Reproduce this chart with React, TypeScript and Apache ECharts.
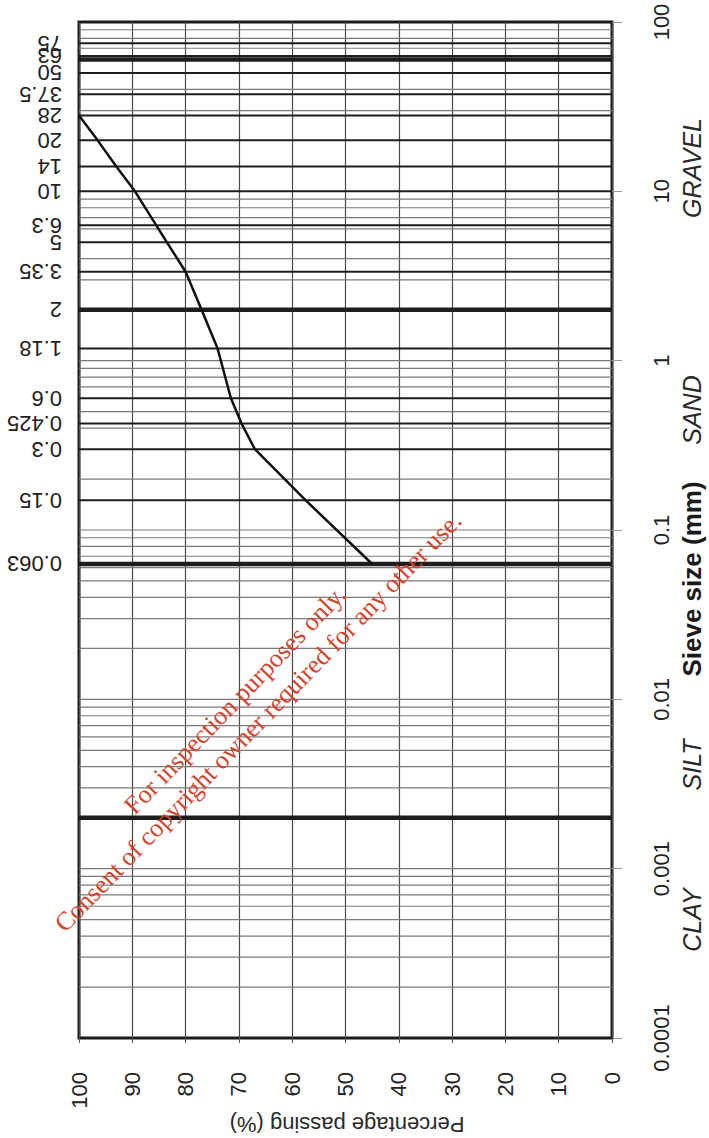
import React, { useEffect, useRef } from "react";
import * as echarts from "echarts";

// ---- data ----
const sieveSizes = [75, 63, 50, 37.5, 28, 20, 14, 10, 6.3, 5, 3.35, 2, 1.18, 0.6, 0.425, 0.3, 0.15, 0.063];
const sieveLabels = ["75", "63", "50", "37.5", "28", "20", "14", "10", "6.3", "5", "3.35", "2", "1.18", "0.6", "0.425", "0.3", "0.15", "0.063"];
const boundarySizes = [60, 2, 0.063, 0.002];
const decades = [0.0001, 0.001, 0.01, 0.1, 1, 10];
const mantissas = [1, 2, 3, 4, 5, 6, 7, 8, 9];
const sizeTicks = [0.0001, 0.001, 0.01, 0.1, 1, 10, 100];
const sizeTickLabels = ["0.0001", "0.001", "0.01", "0.1", "1", "10", "100"];
const curveSizes = [28, 20, 14, 10, 6.3, 5, 3.35, 2, 1.18, 0.6, 0.425, 0.3, 0.15, 0.063];
const curvePassing = [100, 96.5, 93, 89.5, 85.5, 83.5, 80, 77, 74, 71.5, 69.5, 67, 57.5, 45];
const soilClasses = ["GRAVEL", "SAND", "SILT", "CLAY"];
const watermarkLines = ["For inspection purposes only.", "Consent of copyright owner required for any other use."];

const SANS = '"Liberation Sans", Arial, sans-serif';
const SERIF = '"Liberation Serif", "Times New Roman", serif';

export default function App() {
  const ref = useRef<HTMLDivElement>(null);
  useEffect(() => {
    if (!ref.current) return;
    const chart = echarts.init(ref.current, undefined, { renderer: "svg" });

    const near = (a: number, b: number) => Math.abs(Math.log10(a) - Math.log10(b)) < 1e-6;
    const minorValues: number[] = [];
    decades.forEach((d) => mantissas.forEach((m) => {
      const v = +(d * m).toPrecision(6);
      if (near(v, 0.0001)) return;
      if (sieveSizes.some((s) => near(s, v)) || boundarySizes.some((s) => near(s, v))) return;
      minorValues.push(v);
    }));

    const hLines: any[] = [];
    minorValues.forEach((v) => hLines.push([0, v, 0]));
    sieveSizes.forEach((v) => hLines.push([0, v, 1]));
    boundarySizes.forEach((v) => hLines.push([0, v, 2]));

    const lineStyles = [
      { stroke: "#7a7a7a", lineWidth: 1.2 },
      { stroke: "#1e1e1e", lineWidth: 2 },
      { stroke: "#1e1e1e", lineWidth: 4.5 },
    ];

    const classPos = [
      [692, 168],
      [692, 410],
      [692, 765],
      [692, 920],
    ];

    const graphics: any[] = [];
    soilClasses.forEach((c, i) => {
      graphics.push({
        type: "text",
        x: classPos[i][0],
        y: classPos[i][1],
        rotation: Math.PI / 2,
        style: { text: c, fill: "#2a2a2a", font: `italic 25px ${SANS}`, align: "center", verticalAlign: "middle" },
      });
    });
    graphics.push({
      type: "text",
      x: 692,
      y: 579,
      rotation: Math.PI / 2,
      style: { text: "Sieve size (mm)", fill: "#1a1a1a", font: `bold 26px ${SANS}`, align: "center", verticalAlign: "middle" },
    });
    graphics.push({
      type: "text",
      x: 347,
      y: 1124,
      rotation: Math.PI,
      style: { text: "Percentage passing (%)", fill: "#2a2a2a", font: `22px ${SANS}`, align: "center", verticalAlign: "middle" },
    });
    const wmPos = [
      [235, 700],
      [258, 722],
    ];
    watermarkLines.forEach((t, i) => {
      graphics.push({
        type: "text",
        x: wmPos[i][0],
        y: wmPos[i][1],
        rotation: (46 * Math.PI) / 180,
        z: 100,
        style: { text: t, fill: "#d4432c", font: `26px ${SERIF}`, align: "center", verticalAlign: "middle" },
      });
    });

    chart.setOption({
      animation: false,
      backgroundColor: "#ffffff",
      grid: {
        left: 79,
        right: 97,
        top: 22,
        bottom: 100,
        show: true,
        borderColor: "#1a1a1a",
        borderWidth: 3,
        backgroundColor: "transparent",
        outerBoundsMode: "none",
      },
      xAxis: {
        type: "value",
        min: 0,
        max: 100,
        interval: 10,
        inverse: true,
        position: "bottom",
        axisLine: { show: false },
        axisTick: { show: true, length: 5, lineStyle: { color: "#555", width: 1 } },
        axisLabel: { rotate: 90, margin: 34, fontSize: 22, color: "#222", fontFamily: SANS },
        splitLine: { show: true, lineStyle: { color: "#4a4a4a", width: 1.2 } },
      },
      yAxis: {
        type: "log",
        logBase: 10,
        min: 0.0001,
        max: 100,
        splitNumber: 6,
        position: "right",
        axisLine: { show: false },
        axisTick: { show: true, length: 10, lineStyle: { color: "#999", width: 1 } },
        axisLabel: {
          rotate: 90,
          margin: 38,
          fontSize: 22,
          color: "#222",
          fontFamily: SANS,
          formatter: (v: number) => {
            const i = sizeTicks.findIndex((t) => near(t, v));
            return i >= 0 ? sizeTickLabels[i] : "";
          },
        },
        splitLine: { show: false },
      },
      graphic: graphics,
      series: [
        {
          type: "custom",
          silent: true,
          z: 1,
          clip: false,
          data: hLines,
          renderItem: (params: any, api: any) => {
            const v = api.value(1);
            const kind = api.value(2);
            const p1 = api.coord([100, v]);
            const p2 = api.coord([0, v]);
            return {
              type: "line",
              shape: { x1: p1[0], y1: p1[1], x2: p2[0], y2: p2[1] },
              style: lineStyles[kind],
            };
          },
        },
        {
          type: "custom",
          silent: true,
          z: 2,
          clip: false,
          data: sieveSizes.map((s, i) => [100, s, i]),
          renderItem: (params: any, api: any) => {
            const p = api.coord([100, api.value(1)]);
            return {
              type: "text",
              x: p[0] - 17,
              y: p[1],
              rotation: Math.PI,
              style: {
                text: sieveLabels[api.value(2)],
                fill: "#222",
                font: `22px ${SANS}`,
                align: "left",
                verticalAlign: "middle",
              },
            };
          },
        },
        {
          type: "line",
          z: 5,
          symbol: "none",
          silent: true,
          data: curveSizes.map((s, i) => [curvePassing[i], s]),
          lineStyle: { color: "#111", width: 2.5 },
        },
      ],
    });
    return () => chart.dispose();
  }, []);
  return <div ref={ref} style={{ position: "absolute", left: 0, top: 0, width: 709, height: 1138 }} />;
}
